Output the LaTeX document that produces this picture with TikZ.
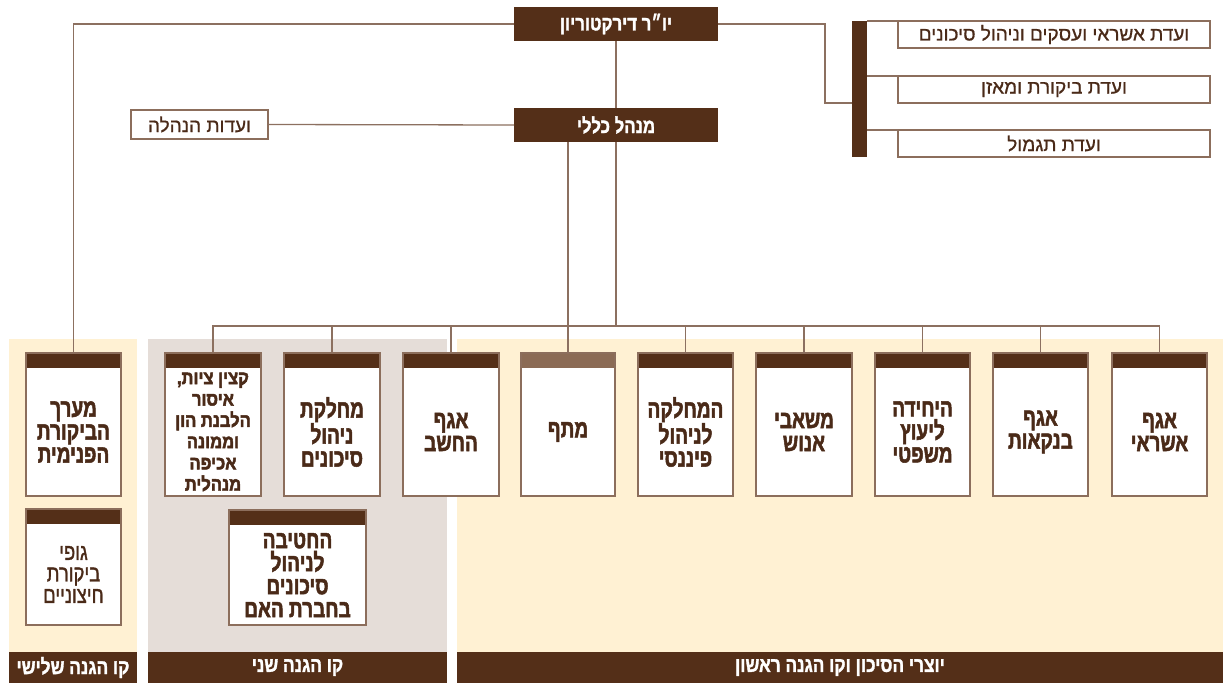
\documentclass[tikz,border=0pt]{standalone}
\usepackage{fontspec}
\newfontfamily\hebB[Script=Hebrew,FakeStretch=0.82,FakeBold=1.5]{Liberation Sans Bold}
\newfontfamily\hebC[Script=Hebrew,FakeStretch=0.76,FakeBold=2]{Liberation Sans Bold}
\newfontfamily\hebK[Script=Hebrew,FakeStretch=0.87,FakeBold=2.5]{Liberation Sans Bold}
\newfontfamily\hebM[Script=Hebrew,FakeBold=0.8]{Liberation Sans}
\newfontfamily\hebMc[Script=Hebrew,FakeStretch=0.8,FakeBold=1.2]{Liberation Sans}
\TeXXeTstate=1
\newcommand\heb[1]{\beginR #1\endR}
\definecolor{dbrown}{RGB}{84,47,24}
\definecolor{mbrown}{RGB}{139,107,85}
\definecolor{linec}{RGB}{140,112,96}
\definecolor{bordc}{RGB}{140,110,92}
\definecolor{tbrown}{RGB}{74,42,24}
\definecolor{cream}{RGB}{255,241,211}
\definecolor{grayp}{RGB}{229,221,216}
\tikzset{
  ln/.style={draw=linec, line width=1.3pt},
  darkbox/.style={fill=dbrown, draw=none, text=white, inner sep=0, outer sep=0,
    font=\hebB\fontsize{20.5}{23}\selectfont},
  commbox/.style={draw=bordc, line width=1.3pt, fill=white, text=tbrown, inner sep=0, outer sep=0,
    font=\hebM\fontsize{19}{22}\selectfont},
  cardbody/.style={draw=bordc, line width=1.3pt, fill=white, inner sep=0, outer sep=0},
  cardtxt/.style={text=tbrown, align=center, inner sep=0,
    font=\hebC\fontsize{25}{23}\selectfont},
  bartxt/.style={text=white, inner sep=0, font=\hebB\fontsize{21}{23}\selectfont},
}
% [extra text style] name, x1, y1, x2, y2, header colour, text
\newcommand\mycard[8][]{%
  \node[cardbody, minimum width={(#5-#3)*1pt}, minimum height={(#6-#4)*1pt}, anchor=north west] (#2) at (#3,#4) {};
  \fill[#7] (#2.north west) rectangle ([yshift=-15pt]#2.north east);
  \draw[draw=bordc, line width=1.3pt] (#2.north west) rectangle (#2.south east);
  \node[cardtxt,#1] at ([yshift=-7.5pt]#2.center) {#8};
}
\begin{document}
\begin{tikzpicture}[x=1pt,y=-1pt]
\useasboundingbox (0,0) rectangle (1223,683);
% panels
\fill[cream] (9,339) rectangle (137,652);
\fill[grayp] (148,339) rectangle (447,652);
\fill[cream] (457,339) rectangle (1223,652);
\node[fill=dbrown, inner sep=0, outer sep=0, minimum width=128pt, minimum height=31pt, anchor=north west] (line3) at (9,652) {};
\node[fill=dbrown, inner sep=0, outer sep=0, minimum width=299pt, minimum height=31pt, anchor=north west] (line2) at (148,652) {};
\node[fill=dbrown, inner sep=0, outer sep=0, minimum width=766pt, minimum height=31pt, anchor=north west] (line1) at (457,652) {};
\node[bartxt] at (line3.center) {\heb{קו הגנה שלישי}};
\node[bartxt] at (line2.center) {\heb{קו הגנה שני}};
\node[bartxt] at (line1.center) {\heb{יוצרי הסיכון וקו הגנה ראשון}};

% top boxes
\node[darkbox, minimum width=204pt, minimum height=34pt] (chair) at (616,24) {\heb{יו״ר דירקטוריון}};
\node[darkbox, minimum width=204pt, minimum height=34pt] (mgr) at (616,125) {\heb{מנהל כללי}};
\node[commbox, minimum width=137pt, minimum height=29pt] (mc) at (199.5,124.5) {\heb{ועדות הנהלה}};
\node[fill=dbrown, inner sep=0, outer sep=0, minimum width=15pt, minimum height=136pt] (bar) at (859.5,89) {};
\node[commbox, minimum width=312pt, minimum height=27pt] (c1) at (1054,34.5) {\heb{ועדת אשראי ועסקים וניהול סיכונים}};
\node[commbox, minimum width=312pt, minimum height=27pt] (c2) at (1054,89.5) {\heb{ועדת ביקורת ומאזן}};
\node[commbox, minimum width=312pt, minimum height=27pt] (c3) at (1054,143.5) {\heb{ועדת תגמול}};

% cards
\mycard{audit}{26}{353}{121}{496}{dbrown}{\heb{מערך}\\\heb{הביקורת}\\\heb{הפנימית}}
\mycard[font=\hebMc\fontsize{23}{21.5}\selectfont]{ext}{26}{509}{121}{625}{dbrown}{\heb{גופי}\\\heb{ביקורת}\\\heb{חיצוניים}}
\mycard[font=\hebK\fontsize{19}{21.3}\selectfont]{compliance}{165}{353}{261}{496}{dbrown}{\heb{קצין ציות,}\\\heb{איסור}\\\heb{הלבנת הון}\\\heb{וממונה}\\\heb{אכיפה}\\\heb{מנהלית}}
\mycard{riskdept}{284}{353}{380}{496}{dbrown}{\heb{מחלקת}\\\heb{ניהול}\\\heb{סיכונים}}
\mycard{accountant}{403}{353}{499}{496}{dbrown}{\heb{אגף}\\\heb{החשב}}
\mycard{parentrisk}{229}{510}{366}{625}{dbrown}{\heb{החטיבה}\\\heb{לניהול}\\\heb{סיכונים}\\\heb{בחברת האם}}
\mycard{matef}{521}{353}{615}{496}{mbrown}{\heb{מתף}}
\mycard{finance}{638}{353}{733}{496}{dbrown}{\heb{המחלקה}\\\heb{לניהול}\\\heb{פיננסי}}
\mycard{hr}{756}{353}{852}{496}{dbrown}{\heb{משאבי}\\\heb{אנוש}}
\mycard{legal}{875}{353}{970}{496}{dbrown}{\heb{היחידה}\\\heb{ליעוץ}\\\heb{משפטי}}
\mycard{banking}{993}{353}{1088}{496}{dbrown}{\heb{אגף}\\\heb{בנקאות}}
\mycard{credit}{1112}{353}{1207}{496}{dbrown}{\heb{אגף}\\\heb{אשראי}}

% connectors
\coordinate (bus) at (616,326);
\draw[ln] (chair.south) -- (mgr.north);
\draw[ln] (mgr.west) -- (mc.east);
\draw[ln] (chair.west) -- (chair.west -| audit.north) -- (audit.north);
\draw[ln] (chair.east) -| ([xshift=-27pt]bar.west |- c2.south) -- (bar.west |- c2.south);
\draw[ln] (c1.north west -| bar.east) -- (c1.north west);
\draw[ln] (c2.north west -| bar.east) -- (c2.north west);
\draw[ln] (c3.north west -| bar.east) -- (c3.north west);
\draw[ln] (mgr.south) -- (bus);
\draw[ln] (mgr.south -| matef.north) -- (matef.north);
\draw[ln] (compliance.north) -- (compliance.north |- bus) -- (credit.north |- bus) -- (credit.north);
\foreach \n in {riskdept,accountant,finance,hr,legal,banking}
  \draw[ln] (\n.north) -- (\n.north |- bus);
\end{tikzpicture}
\end{document}
